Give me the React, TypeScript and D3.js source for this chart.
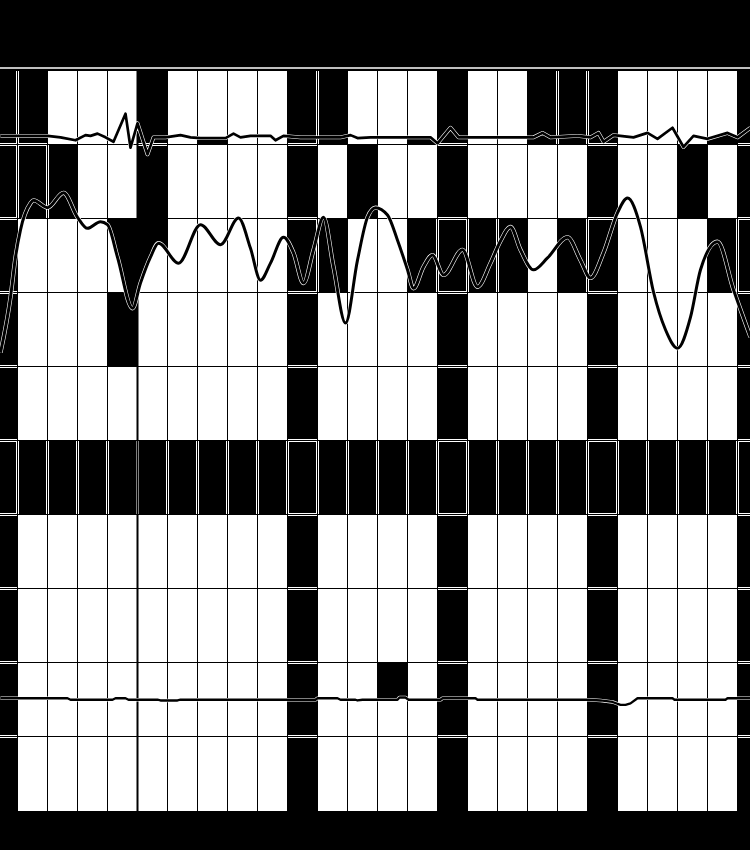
import * as d3 from "d3";

// one string per row, one char per hourly column:
// 0 = white, 1 = light (dark only between upper and main series), 3 = light (dark only above lower series), 2 = dark
const gridRows = [
  "22000201002200120022200012",
  "22200200002020020000200202",
  "20001100002200222202200022",
  "20002000002000020000200002",
  "20000000002000020000200002",
  "22222222222222222222222222",
  "20000000002000020000200002",
  "20000000002000020000200002",
  "20000000002003020000200002",
  "20000000002000020000200002",
];

const NOW_MINUTE = 300;

// [minute, value]
const upperSeries: [number, number][] = [
  [26, 91.1], [60, 91.1], [120, 91.1], [146, 90.9], [176, 90.5], [196, 91.2], [206, 91.1],
  [220, 91.4], [236, 90.9], [252, 90.3], [276, 94.1], [286, 89.5], [300, 92.8], [320, 88.6],
  [332, 90.9], [356, 90.9], [386, 91.2], [406, 90.9], [426, 90.8], [476, 90.8], [492, 91.4],
  [506, 90.9], [526, 91.1], [566, 91.1], [576, 90.5], [592, 91.1], [626, 90.9], [706, 90.9],
  [726, 91.2], [740, 90.8], [766, 90.9], [886, 90.9], [900, 90.1], [926, 92.2], [942, 90.9],
  [1026, 90.9], [1092, 90.9], [1110, 91.5], [1126, 90.9], [1180, 91.1], [1206, 90.9],
  [1222, 91.5], [1232, 90.3], [1252, 91.2], [1292, 90.9], [1320, 91.5], [1340, 90.7],
  [1370, 92.2], [1392, 89.6], [1412, 91.1], [1440, 90.7], [1480, 91.5], [1500, 90.9],
  [1526, 92.2],
];

const mainSeries: [number, number][] = [
  [26, 61.8], [46, 69.3], [56, 74.7], [66, 78.4], [86, 82.0], [92, 82.4], [120, 81.4],
  [152, 83.4], [180, 80.1], [200, 78.6], [226, 79.5], [240, 79.1], [260, 74.7], [290, 67.8],
  [306, 71.2], [326, 74.7], [342, 76.6], [382, 73.9], [426, 79.1], [466, 76.4], [502, 80.0],
  [526, 75.9], [546, 71.6], [566, 73.9], [592, 77.4], [612, 75.3], [632, 71.2], [652, 75.7],
  [672, 80.1], [692, 73.4], [716, 65.8], [740, 74.3], [760, 80.1], [776, 81.4], [800, 80.4],
  [820, 77.0], [840, 73.0], [852, 70.5], [872, 73.4], [890, 75.0], [912, 72.3], [950, 75.7],
  [980, 70.7], [1006, 73.9], [1026, 76.9], [1046, 78.8], [1066, 75.7], [1092, 73.0],
  [1120, 74.6], [1160, 77.4], [1186, 74.3], [1206, 71.9], [1232, 75.3], [1260, 80.7],
  [1280, 82.7], [1306, 78.8], [1332, 70.0], [1356, 64.9], [1380, 62.4], [1406, 66.6],
  [1426, 73.0], [1460, 76.8], [1492, 70.3], [1526, 63.9],
];

const lowerSeries: [number, number][] = [
  [26, 15.1], [160, 15.1], [166, 14.9], [250, 14.9], [256, 15.1], [276, 15.1], [282, 14.9],
  [340, 14.9], [346, 14.8], [380, 14.8], [386, 14.9], [656, 14.9], [660, 15.1], [700, 15.1],
  [706, 14.9], [736, 14.9], [740, 14.8], [750, 14.9], [820, 14.9], [824, 15.2], [836, 15.2],
  [842, 14.9], [906, 14.9], [910, 15.1], [976, 15.1], [980, 14.9], [1202, 14.9], [1226, 14.8],
  [1250, 14.6], [1266, 14.2], [1276, 14.2], [1286, 14.4], [1300, 15.1], [1370, 15.1],
  [1374, 14.9], [1476, 14.9], [1480, 15.1], [1526, 15.1],
];

export default function App() {
  const W = 750;
  const H = 850;
  const cols = gridRows[0].length;
  const grid = gridRows.map(r => r.split("").map(Number));

  const x = d3.scaleLinear().domain([0, cols * 60]).range([-12.5, -12.5 + cols * 30]);
  const row = d3.scaleBand<number>().domain(d3.range(grid.length)).range([70.5, 811]);
  const y = d3.scaleLinear().domain([0, 100]).range([810, 70]);
  const [top, bottom] = row.range();

  // snap row edges onto pixel centres so the rules stay crisp
  const ry = (r: number) => (r === 0 ? top : r === grid.length ? bottom : Math.floor(row(r)!) + 0.5);
  const cx0 = (c: number) => x(c * 60);
  const cx1 = (c: number) => x((c + 1) * 60);

  const line = (curve: d3.CurveFactory) =>
    d3.line<[number, number]>().x(d => x(d[0])).y(d => y(d[1])).curve(curve);

  const upperPath = line(d3.curveLinear)(upperSeries) || "";
  const mainPath = line(d3.curveMonotoneX)(mainSeries) || "";
  const lowerPath = line(d3.curveLinear)(lowerSeries) || "";

  const belowUpper =
    d3.area<[number, number]>().x(d => x(d[0])).y0(bottom).y1(d => y(d[1]))(upperSeries) || "";
  const aboveMain =
    d3.area<[number, number]>().x(d => x(d[0])).y0(top).y1(d => y(d[1])).curve(d3.curveMonotoneX)(mainSeries) || "";
  const aboveLower =
    d3.area<[number, number]>().x(d => x(d[0])).y0(top).y1(d => y(d[1]))(lowerSeries) || "";

  const cells: { r: number; c: number; v: number }[] = [];
  grid.forEach((rowVals, r) => rowVals.forEach((v, c) => cells.push({ r, c, v })));

  const cellRect = (d: { r: number; c: number }, extra: Record<string, unknown> = {}) => (
    <rect
      key={`${d.r}-${d.c}`}
      x={cx0(d.c)}
      y={ry(d.r)}
      width={cx1(d.c) - cx0(d.c)}
      height={ry(d.r + 1) - ry(d.r)}
      {...extra}
    />
  );

  // white double rules between two dark neighbours
  const seps: JSX.Element[] = [];
  grid.forEach((rowVals, r) => {
    rowVals.forEach((v, c) => {
      if (c > 0 && v === 2 && rowVals[c - 1] === 2) {
        seps.push(<rect key={`v${r}-${c}`} x={cx0(c) - 1.5} y={ry(r)} width={3} height={ry(r + 1) - ry(r)} fill="#fff" />);
      }
      if (r > 0 && v === 2 && grid[r - 1][c] === 2) {
        seps.push(<rect key={`h${r}-${c}`} x={cx0(c)} y={ry(r) - 1.5} width={cx1(c) - cx0(c)} height={3} fill="#fff" />);
      }
    });
  });

  const series = [
    { d: upperPath, w: 2.7 },
    { d: mainPath, w: 3 },
    { d: lowerPath, w: 2.3 },
  ];

  return (
    <>
      <style>{"body{margin:0}"}</style>
      <svg width={W} height={H} style={{ display: "block" }}>
        <defs>
          <clipPath id="lightCells">{cells.filter(d => d.v === 1).map(d => cellRect(d))}</clipPath>
          <clipPath id="lowLightCells">{cells.filter(d => d.v === 3).map(d => cellRect(d))}</clipPath>
          <clipPath id="aboveMain">
            <path d={aboveMain} />
          </clipPath>
        </defs>
        <rect width={W} height={H} fill="#000" />
        <line x1={0} x2={W} y1={68} y2={68} stroke="#fff" strokeWidth={1.4} />
        <g shapeRendering="crispEdges">
          {cells.map(d => cellRect(d, { fill: d.v === 2 ? "#000" : "#fff" }))}
        </g>
        <g clipPath="url(#lightCells)">
          <path d={belowUpper} fill="#000" clipPath="url(#aboveMain)" />
        </g>
        <g clipPath="url(#lowLightCells)">
          <path d={aboveLower} fill="#000" />
        </g>
        <g shapeRendering="crispEdges">{seps}</g>
        <g stroke="#000" strokeWidth={1} shapeRendering="crispEdges">
          {d3.range(1, cols).map(c => (
            <line key={`gx${c}`} x1={cx0(c)} x2={cx0(c)} y1={top} y2={bottom} />
          ))}
          {d3.range(1, grid.length).map(r => (
            <line key={`gy${r}`} x1={0} x2={W} y1={ry(r)} y2={ry(r)} />
          ))}
        </g>
        <line x1={x(NOW_MINUTE)} x2={x(NOW_MINUTE)} y1={top} y2={bottom} stroke="#000" strokeWidth={2} />
        {series.map((s, i) => (
          <g key={i} fill="none" strokeLinejoin="round">
            <path d={s.d} stroke="#fff" strokeWidth={s.w + 1.2} />
            <path d={s.d} stroke="#000" strokeWidth={s.w} />
          </g>
        ))}
      </svg>
    </>
  );
}
